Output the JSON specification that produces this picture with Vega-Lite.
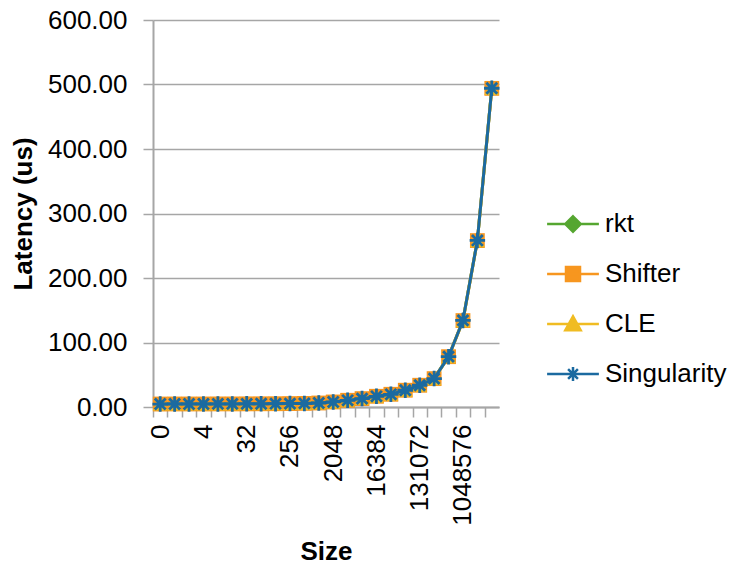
{
  "$schema": "https://vega.github.io/schema/vega-lite/v6.json",
  "width": 346,
  "height": 387,
  "autosize": "none",
  "padding": {"left": 153, "top": 20, "right": 233, "bottom": 158},
  "background": "white",
  "config": {"font": "Liberation Sans", "view": {"stroke": null}},
  "data": {"values": [
    {"series": "rkt", "size": "0", "latency": 4.7}, {"series": "rkt", "size": "1", "latency": 4.7}, {"series": "rkt", "size": "2", "latency": 4.8}, {"series": "rkt", "size": "4", "latency": 4.8}, {"series": "rkt", "size": "8", "latency": 4.8}, {"series": "rkt", "size": "16", "latency": 4.9}, {"series": "rkt", "size": "32", "latency": 5.0}, {"series": "rkt", "size": "64", "latency": 5.1}, {"series": "rkt", "size": "128", "latency": 5.2}, {"series": "rkt", "size": "256", "latency": 5.4}, {"series": "rkt", "size": "512", "latency": 5.7}, {"series": "rkt", "size": "1024", "latency": 6.3}, {"series": "rkt", "size": "2048", "latency": 7.9}, {"series": "rkt", "size": "4096", "latency": 10.5}, {"series": "rkt", "size": "8192", "latency": 13.1}, {"series": "rkt", "size": "16384", "latency": 16.8}, {"series": "rkt", "size": "32768", "latency": 19.9}, {"series": "rkt", "size": "65536", "latency": 26.2}, {"series": "rkt", "size": "131072", "latency": 33.9}, {"series": "rkt", "size": "262144", "latency": 44.3}, {"series": "rkt", "size": "524288", "latency": 78.4}, {"series": "rkt", "size": "1048576", "latency": 134.6}, {"series": "rkt", "size": "2097152", "latency": 258.5}, {"series": "rkt", "size": "4194304", "latency": 494.6},
    {"series": "Shifter", "size": "0", "latency": 4.6}, {"series": "Shifter", "size": "1", "latency": 4.7}, {"series": "Shifter", "size": "2", "latency": 4.7}, {"series": "Shifter", "size": "4", "latency": 4.7}, {"series": "Shifter", "size": "8", "latency": 4.8}, {"series": "Shifter", "size": "16", "latency": 4.8}, {"series": "Shifter", "size": "32", "latency": 4.9}, {"series": "Shifter", "size": "64", "latency": 5.0}, {"series": "Shifter", "size": "128", "latency": 5.1}, {"series": "Shifter", "size": "256", "latency": 5.3}, {"series": "Shifter", "size": "512", "latency": 5.6}, {"series": "Shifter", "size": "1024", "latency": 6.2}, {"series": "Shifter", "size": "2048", "latency": 7.8}, {"series": "Shifter", "size": "4096", "latency": 10.4}, {"series": "Shifter", "size": "8192", "latency": 13.0}, {"series": "Shifter", "size": "16384", "latency": 16.6}, {"series": "Shifter", "size": "32768", "latency": 19.7}, {"series": "Shifter", "size": "65536", "latency": 26.0}, {"series": "Shifter", "size": "131072", "latency": 33.7}, {"series": "Shifter", "size": "262144", "latency": 44.0}, {"series": "Shifter", "size": "524288", "latency": 78.0}, {"series": "Shifter", "size": "1048576", "latency": 134.0}, {"series": "Shifter", "size": "2097152", "latency": 258.0}, {"series": "Shifter", "size": "4194304", "latency": 494.0},
    {"series": "CLE", "size": "0", "latency": 4.5}, {"series": "CLE", "size": "1", "latency": 4.6}, {"series": "CLE", "size": "2", "latency": 4.6}, {"series": "CLE", "size": "4", "latency": 4.6}, {"series": "CLE", "size": "8", "latency": 4.7}, {"series": "CLE", "size": "16", "latency": 4.7}, {"series": "CLE", "size": "32", "latency": 4.8}, {"series": "CLE", "size": "64", "latency": 4.9}, {"series": "CLE", "size": "128", "latency": 5.0}, {"series": "CLE", "size": "256", "latency": 5.2}, {"series": "CLE", "size": "512", "latency": 5.5}, {"series": "CLE", "size": "1024", "latency": 6.1}, {"series": "CLE", "size": "2048", "latency": 7.7}, {"series": "CLE", "size": "4096", "latency": 10.3}, {"series": "CLE", "size": "8192", "latency": 12.9}, {"series": "CLE", "size": "16384", "latency": 16.5}, {"series": "CLE", "size": "32768", "latency": 19.6}, {"series": "CLE", "size": "65536", "latency": 25.9}, {"series": "CLE", "size": "131072", "latency": 33.5}, {"series": "CLE", "size": "262144", "latency": 43.8}, {"series": "CLE", "size": "524288", "latency": 77.7}, {"series": "CLE", "size": "1048576", "latency": 133.7}, {"series": "CLE", "size": "2097152", "latency": 257.6}, {"series": "CLE", "size": "4194304", "latency": 493.5},
    {"series": "Singularity", "size": "0", "latency": 4.6}, {"series": "Singularity", "size": "1", "latency": 4.7}, {"series": "Singularity", "size": "2", "latency": 4.7}, {"series": "Singularity", "size": "4", "latency": 4.7}, {"series": "Singularity", "size": "8", "latency": 4.8}, {"series": "Singularity", "size": "16", "latency": 4.8}, {"series": "Singularity", "size": "32", "latency": 4.9}, {"series": "Singularity", "size": "64", "latency": 5.0}, {"series": "Singularity", "size": "128", "latency": 5.1}, {"series": "Singularity", "size": "256", "latency": 5.3}, {"series": "Singularity", "size": "512", "latency": 5.6}, {"series": "Singularity", "size": "1024", "latency": 6.2}, {"series": "Singularity", "size": "2048", "latency": 7.8}, {"series": "Singularity", "size": "4096", "latency": 10.4}, {"series": "Singularity", "size": "8192", "latency": 13.0}, {"series": "Singularity", "size": "16384", "latency": 16.6}, {"series": "Singularity", "size": "32768", "latency": 19.7}, {"series": "Singularity", "size": "65536", "latency": 26.0}, {"series": "Singularity", "size": "131072", "latency": 33.7}, {"series": "Singularity", "size": "262144", "latency": 44.0}, {"series": "Singularity", "size": "524288", "latency": 78.0}, {"series": "Singularity", "size": "1048576", "latency": 134.2}, {"series": "Singularity", "size": "2097152", "latency": 258.2}, {"series": "Singularity", "size": "4194304", "latency": 494.2}
  ]},
  "encoding": {
    "x": {
      "field": "size", "type": "ordinal",
      "sort": ["0","1","2","4","8","16","32","64","128","256","512","1024","2048","4096","8192","16384","32768","65536","131072","262144","524288","1048576","2097152","4194304"],
      "scale": {"padding": 0.5},
      "axis": {
        "title": "Size", "titleFontSize": 26, "titleFont": "Liberation Sans", "titleFontWeight": "bold", "titleColor": "black", "titlePadding": 13,
        "labelAngle": 270, "labelFontSize": 26, "labelFont": "Liberation Sans", "labelColor": "black", "labelPadding": 7, "labelOverlap": false,
        "labelExpr": "indexof(['0','4','32','256','2048','16384','131072','1048576'], datum.label) >= 0 ? datum.label : ''",
        "tickOffset": -7.2, "labelOffset": 7.2, "tickSize": 10, "tickColor": "#a6a6a6", "tickWidth": 1.5,
        "domainColor": "#a6a6a6", "domainWidth": 2, "grid": false
      }
    },
    "y": {
      "field": "latency", "type": "quantitative",
      "scale": {"domain": [0, 600], "nice": false},
      "axis": {
        "title": "Latency (us)", "titleFontSize": 26, "titleFont": "Liberation Sans", "titleFontWeight": "bold", "titleColor": "black", "titlePadding": 11,
        "values": [0, 100, 200, 300, 400, 500, 600], "format": ".2f",
        "labelFontSize": 26, "labelFont": "Liberation Sans", "labelColor": "black", "labelPadding": 16,
        "tickSize": 10, "tickColor": "#a6a6a6", "tickWidth": 1.5,
        "grid": true, "gridColor": "#a6a6a6", "gridWidth": 1.5,
        "domainColor": "#a6a6a6", "domainWidth": 2
      }
    },
    "color": {
      "field": "series", "type": "nominal",
      "scale": {"domain": ["rkt", "Shifter", "CLE", "Singularity"], "range": ["#55a630", "#f7961f", "#f0bc22", "#1b6aa0"]},
      "legend": {
        "title": null, "orient": "none", "legendX": 407, "legendY": 191, "padding": 0,
        "labelFontSize": 26, "labelFont": "Liberation Sans", "labelColor": "black",
        "symbolSize": 196, "rowPadding": 24, "labelOffset": 19,
        "encode": {"symbols": {"update": {
          "shape": {"signal": "datum.value === 'rkt' ? 'M-3.7,0H3.7M0,-1.1L1.1,0L0,1.1L-1.1,0Z' : datum.value === 'Shifter' ? 'M-3.7,0H3.7M-1,-1H1V1H-1Z' : datum.value === 'CLE' ? 'M-3.7,0H3.7M0,-1.1L1.1,0.9H-1.1Z' : 'M-3.7,0H3.7M-1,0H1M0,-1V1M-0.7,-0.7L0.7,0.7M-0.7,0.7L0.7,-0.7'"},
          "fill": {"signal": "scale('color', datum.value)"},
          "stroke": {"signal": "scale('color', datum.value)"},
          "strokeWidth": {"value": 2.5},
          "opacity": {"value": 1}
        }}}
      }
    }
  },
  "layer": [
    {
      "transform": [{"filter": "datum.series !== 'Singularity'"}],
      "mark": {"type": "point", "filled": true, "size": 220, "opacity": 1},
      "encoding": {"shape": {"field": "series", "type": "nominal", "scale": {"domain": ["rkt", "Shifter", "CLE"], "range": ["diamond", "square", "triangle-up"]}, "legend": null}}
    },
    {
      "mark": {"type": "line", "strokeWidth": 3},
      "encoding": {}
    },
    {
      "transform": [{"filter": "datum.series === 'Singularity'"}],
      "mark": {"type": "point", "shape": "M-1,0H1M0,-1V1M-0.7,-0.7L0.7,0.7M-0.7,0.7L0.7,-0.7", "filled": false, "size": 240, "strokeWidth": 2.8, "opacity": 1},
      "encoding": {}
    }
  ]
}
